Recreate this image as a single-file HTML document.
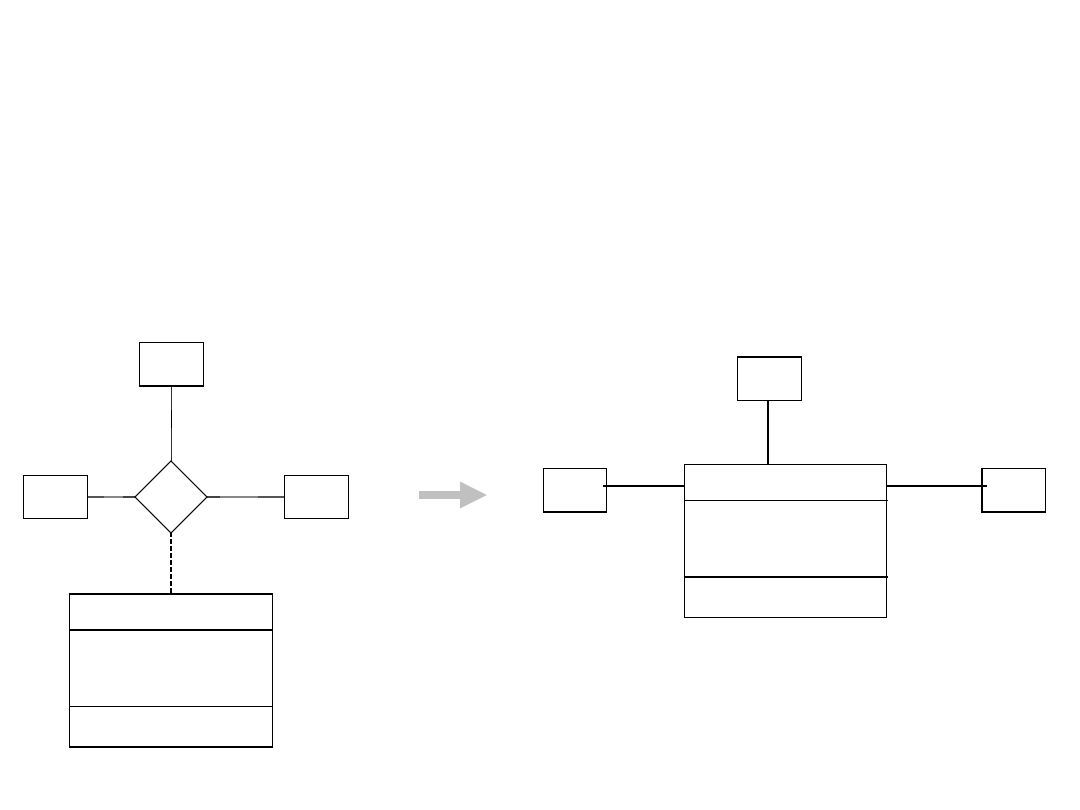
<!DOCTYPE html>
<html>
<head>
<meta charset="utf-8">
<style>
html,body{margin:0;padding:0;background:#fff;width:1080px;height:810px;overflow:hidden}
svg{display:block}
</style>
</head>
<body>
<svg width="1080" height="810" viewBox="0 0 1080 810" xmlns="http://www.w3.org/2000/svg">
<rect width="1080" height="810" fill="#fff"/>
<g shape-rendering="crispEdges" fill="#000">
<!-- left top box -->
<rect x="139" y="342" width="65" height="1"/>
<rect x="139" y="385" width="65" height="2"/>
<rect x="139" y="342" width="1" height="45"/>
<rect x="203" y="342" width="1" height="45"/>
<!-- left box -->
<rect x="23" y="475" width="65" height="1"/>
<rect x="23" y="518" width="65" height="1"/>
<rect x="23" y="475" width="1" height="44"/>
<rect x="87" y="475" width="1" height="44"/>
<!-- right box -->
<rect x="284" y="475" width="65" height="1"/>
<rect x="284" y="518" width="65" height="1"/>
<rect x="284" y="475" width="1" height="44"/>
<rect x="348" y="475" width="1" height="44"/>
<!-- vertical connector -->
<rect x="171" y="387" width="1" height="23" fill="#333"/>
<rect x="171" y="410" width="1" height="18" fill="#000"/>
<rect x="171" y="428" width="1" height="33" fill="#333"/>
<!-- left horizontal connector -->
<rect x="88" y="496" width="16" height="2" fill="#555"/>
<rect x="104" y="496" width="19" height="2" fill="#888"/>
<rect x="123" y="496" width="12" height="2" fill="#444"/>
<!-- right horizontal connector -->
<rect x="207" y="496" width="13" height="2" fill="#444"/>
<rect x="220" y="496" width="38" height="2" fill="#888"/>
<rect x="258" y="496" width="26" height="2" fill="#555"/>
<!-- dashed -->
<rect x="170" y="533" width="2" height="4"/>
<rect x="170" y="539" width="2" height="5"/>
<rect x="170" y="546" width="2" height="5"/>
<rect x="170" y="553" width="2" height="5"/>
<rect x="170" y="560" width="2" height="5"/>
<rect x="170" y="567" width="2" height="5"/>
<rect x="170" y="574" width="2" height="5"/>
<rect x="170" y="581" width="2" height="5"/>
<rect x="170" y="588" width="2" height="5"/>
<!-- bottom left class box -->
<rect x="69" y="593" width="204" height="2"/>
<rect x="69" y="629" width="204" height="2"/>
<rect x="69" y="706" width="204" height="1"/>
<rect x="69" y="746" width="204" height="2"/>
<rect x="69" y="593" width="1" height="155"/>
<rect x="272" y="593" width="1" height="155"/>
<!-- right diagram: left box -->
<rect x="543" y="468" width="64" height="1"/>
<rect x="543" y="511" width="64" height="2"/>
<rect x="543" y="468" width="1" height="45"/>
<rect x="606" y="468" width="1" height="45"/>
<!-- right diagram: top box -->
<rect x="737" y="356" width="65" height="2"/>
<rect x="737" y="400" width="65" height="1"/>
<rect x="737" y="356" width="1" height="45"/>
<rect x="801" y="356" width="1" height="45"/>
<!-- right diagram: right box -->
<rect x="981" y="468" width="65" height="1"/>
<rect x="981" y="511" width="65" height="2"/>
<rect x="981" y="468" width="2" height="45"/>
<rect x="1045" y="468" width="1" height="45"/>
<!-- right diagram: connectors -->
<rect x="603" y="485" width="81" height="2"/>
<rect x="887" y="485" width="100" height="2"/>
<rect x="767" y="401" width="2" height="63"/>
<!-- right diagram: class box -->
<rect x="684" y="464" width="203" height="1"/>
<rect x="684" y="500" width="204" height="1"/>
<rect x="684" y="576" width="204" height="2"/>
<rect x="684" y="617" width="203" height="1"/>
<rect x="684" y="464" width="1" height="154"/>
<rect x="886" y="464" width="1" height="154"/>
</g>
<!-- diamond -->
<polygon points="171,461 207,497 171,533 135,497" fill="#fff" stroke="#000" stroke-width="1.2"/>
<!-- arrow -->
<polygon points="419,491 460,491 460,481.5 487,495 460,508.5 460,499 419,499" fill="#c0c0c0"/>
</svg>
</body>
</html>
